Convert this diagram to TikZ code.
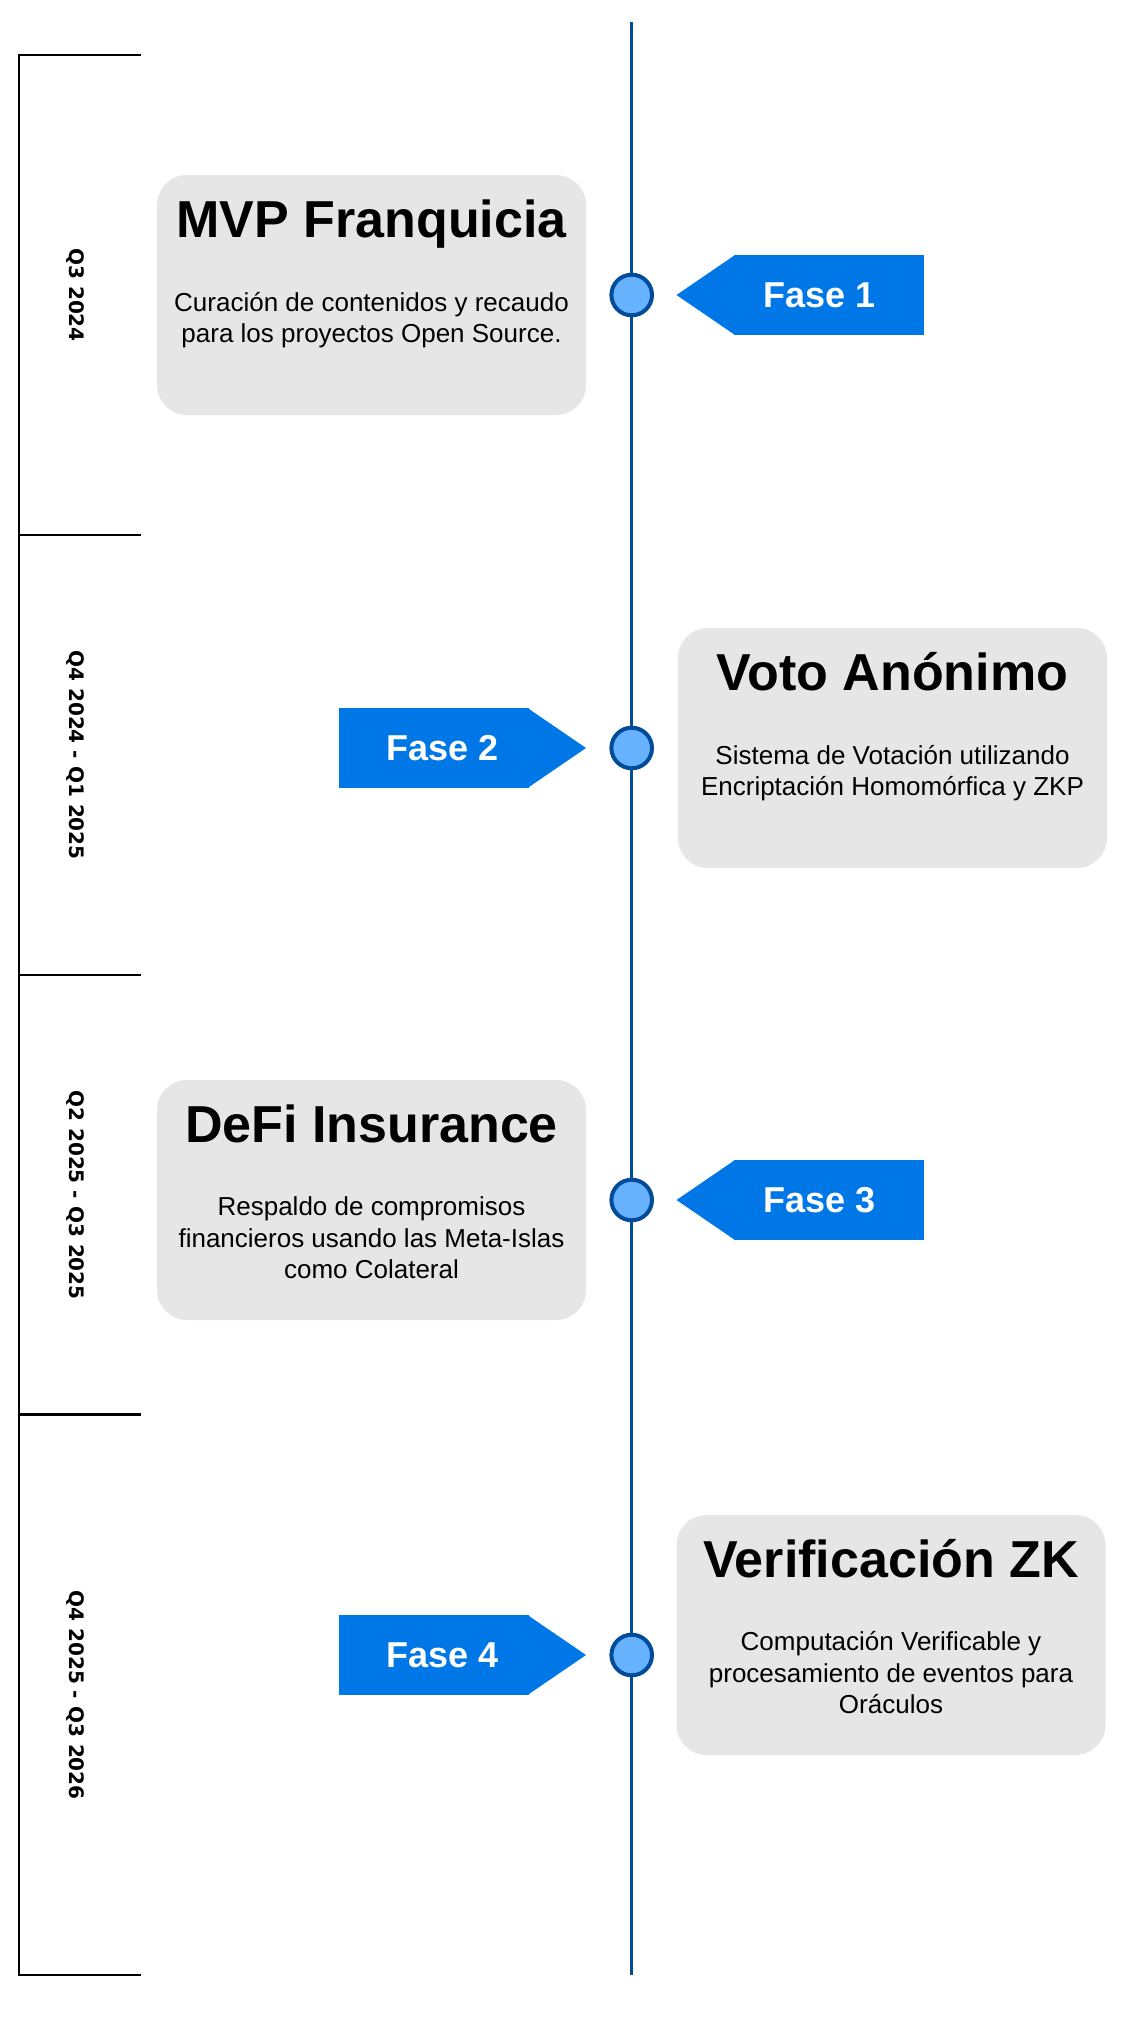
\documentclass[tikz,border=0pt]{standalone}
\usepackage{fontspec}
\setmainfont{Liberation Sans}
\newfontfamily\quarterfont{DejaVu Sans}
\usetikzlibrary{positioning}

\definecolor{tagblue}{HTML}{0077E6}
\definecolor{dotfill}{HTML}{66B2FF}
\definecolor{dotline}{HTML}{004C99}
\definecolor{cardgray}{HTML}{E6E6E6}

\begin{document}
\begin{tikzpicture}[
    x=1pt, y=-1pt,
    every node/.style = {inner sep=0pt, outer sep=0pt},
    card/.style = {fill=cardgray, rounded corners=30pt, minimum width=429pt, minimum height=240pt},
    cardtitle/.style = {anchor=base, font=\bfseries\fontsize{52}{62}\selectfont},
    cardtext/.style = {anchor=base, align=center, font=\fontsize{26}{31.5}\selectfont},
    dot/.style = {circle, draw=dotline, fill=dotfill, line width=4pt, minimum size=40.6pt},
    tag/.style = {fill=tagblue, minimum width=190pt, minimum height=79.3pt},
    tagtext/.style = {text=white, font=\bfseries\fontsize{36}{43}\selectfont},
    quarter/.style = {rotate=-90, font=\quarterfont\bfseries\fontsize{20}{24}\selectfont}
]
    \useasboundingbox (0,0) rectangle (1136,2040);

    % periods
    \draw[line width=2.7pt] (140.7,55) -- (19,55) -- (19,1975) -- (140.7,1975);
    \foreach \y in {535, 975, 1414.5}
        \draw[line width=2.7pt] (19,\y) -- (140.7,\y);

    \node (q1) [quarter] at (75,295) {Q3 2024};
    \node (q2) [quarter] at (75,755) {Q4 2024 - Q1 2025};
    \node (q3) [quarter] at (75,1195) {Q2 2025 - Q3 2025};
    \node (q4) [quarter] at (75,1695) {Q4 2025 - Q3 2026};

    % timeline
    \coordinate (start) at (631.7,22);
    \coordinate (end) at (631.7,1975);
    \draw[dotline, line width=3.5pt] (start) -- (end);

    \node (dot1) [dot] at (631.7,295) {};
    \node (dot2) [dot] at (631.7,748) {};
    \node (dot3) [dot] at (631.7,1200) {};
    \node (dot4) [dot] at (631.7,1655) {};

    % cards
    \node (card1) [card, left=25.4pt of dot1] {};
    \node (card2) [card, right=26pt of dot2] {};
    \node (card3) [card, left=25.4pt of dot3] {};
    \node (card4) [card, right=24.5pt of dot4, yshift=20pt] {};

    \node (title1) [cardtitle] at ([yshift=-62pt]card1.north) {MVP Franquicia};
    \node (text1) [cardtext] at ([yshift=-167.5pt]card1.north) {Curación de contenidos y recaudo\\para los proyectos Open Source.};
    \node (title2) [cardtitle] at ([yshift=-62pt]card2.north) {Voto Anónimo};
    \node (text2) [cardtext] at ([yshift=-167.5pt]card2.north) {Sistema de Votación utilizando\\Encriptación Homomórfica y ZKP};
    \node (title3) [cardtitle] at ([yshift=-62pt]card3.north) {DeFi Insurance};
    \node (text3) [cardtext] at ([yshift=-198.5pt]card3.north) {Respaldo de compromisos\\financieros usando las Meta-Islas\\como Colateral};
    \node (title4) [cardtitle] at ([yshift=-62pt]card4.north) {Verificación ZK};
    \node (text4) [cardtext] at ([yshift=-198.5pt]card4.north) {Computación Verificable y\\procesamiento de eventos para\\Oráculos};

    % phase tags
    \node (tag1) [tag, right=81.5pt of dot1] {};
    \node (tag2) [tag, left=82.4pt of dot2] {};
    \node (tag3) [tag, right=81.5pt of dot3] {};
    \node (tag4) [tag, left=82.4pt of dot4] {};

    \fill[tagblue] ([xshift=1pt]tag1.north west) -- ([xshift=-57pt]tag1.west) -- ([xshift=1pt]tag1.south west) -- cycle;
    \fill[tagblue] ([xshift=-1pt]tag2.north east) -- ([xshift=57pt]tag2.east) -- ([xshift=-1pt]tag2.south east) -- cycle;
    \fill[tagblue] ([xshift=1pt]tag3.north west) -- ([xshift=-57pt]tag3.west) -- ([xshift=1pt]tag3.south west) -- cycle;
    \fill[tagblue] ([xshift=-1pt]tag4.north east) -- ([xshift=57pt]tag4.east) -- ([xshift=-1pt]tag4.south east) -- cycle;

    \node (fase1) [tagtext] at ([xshift=-9pt]tag1.center) {Fase 1};
    \node (fase2) [tagtext] at ([xshift=9pt]tag2.center) {Fase 2};
    \node (fase3) [tagtext] at ([xshift=-9pt]tag3.center) {Fase 3};
    \node (fase4) [tagtext] at ([xshift=9pt]tag4.center) {Fase 4};
\end{tikzpicture}
\end{document}
